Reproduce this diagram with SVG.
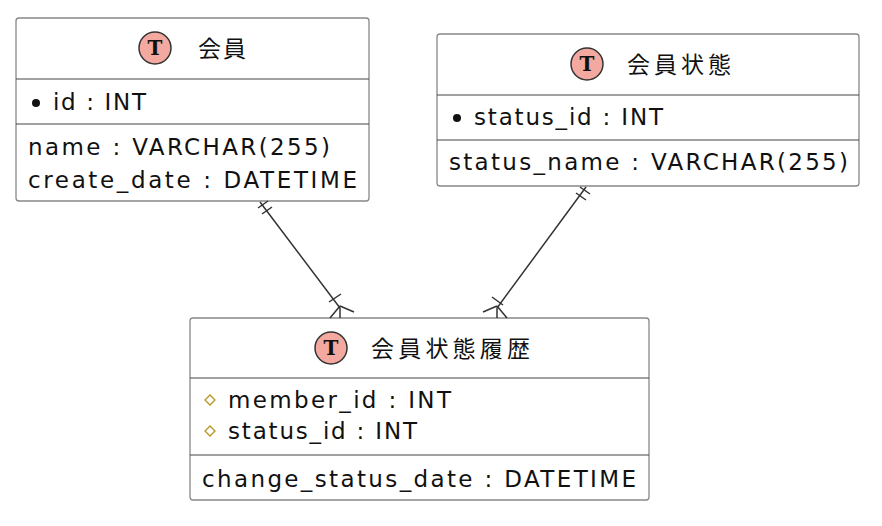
<svg xmlns="http://www.w3.org/2000/svg" width="882" height="526" viewBox="0 0 882 526">
<style>
.box{fill:#fff;stroke:#888;stroke-width:1.3}
.sep{stroke:#444;stroke-width:1.2}
.t{font-family:"DejaVu Sans","Noto Sans CJK JP",sans-serif;font-size:23px;fill:#111}
.h{font-family:"Noto Sans CJK JP",sans-serif;font-size:23px;fill:#111}
.ic{fill:#f4a9a0;stroke:#333;stroke-width:1.5}
.it{font-family:"DejaVu Serif",serif;font-weight:bold;font-size:20px;fill:#111;text-anchor:middle}
.c{stroke:#333;stroke-width:1.5;fill:none}
.k{fill:none;stroke:#b8941e;stroke-width:1.3}
</style>
<g id="member">
<rect class="box" x="16" y="18" width="353" height="183" rx="3"/>
<circle class="ic" cx="155" cy="48" r="16"/><text class="it" x="155" y="55">T</text>
<text class="h" x="198" y="57" textLength="48">会員</text>
<line class="sep" x1="16" y1="79" x2="369" y2="79"/>
<circle cx="36" cy="103" r="4" fill="#111"/>
<text class="t" x="53" y="110" textLength="93">id : INT</text>
<line class="sep" x1="16" y1="124" x2="369" y2="124"/>
<text class="t" x="28" y="155" textLength="302">name : VARCHAR(255)</text>
<text class="t" x="28" y="188" textLength="329">create_date : DATETIME</text>
</g>
<g id="status">
<rect class="box" x="437" y="34" width="422" height="152" rx="3"/>
<circle class="ic" cx="587" cy="64" r="16"/><text class="it" x="587" y="71">T</text>
<text class="h" x="627" y="73" textLength="104">会員状態</text>
<line class="sep" x1="437" y1="95" x2="859" y2="95"/>
<circle cx="457" cy="118" r="4" fill="#111"/>
<text class="t" x="474" y="125" textLength="189">status_id : INT</text>
<line class="sep" x1="437" y1="140" x2="859" y2="140"/>
<text class="t" x="449" y="170" textLength="399">status_name : VARCHAR(255)</text>
</g>
<g id="history">
<rect class="box" x="190" y="318" width="459" height="182" rx="3"/>
<circle class="ic" cx="331" cy="348" r="16"/><text class="it" x="331" y="355">T</text>
<text class="h" x="371" y="357" textLength="159">会員状態履歴</text>
<line class="sep" x1="190" y1="378" x2="649" y2="378"/>
<path class="k" d="M210 395 l5 5 l-5 5 l-5 -5z"/>
<text class="t" x="228" y="408" textLength="223">member_id : INT</text>
<path class="k" d="M210 426 l5 5 l-5 5 l-5 -5z"/>
<text class="t" x="228" y="439" textLength="189">status_id : INT</text>
<line class="sep" x1="190" y1="455" x2="649" y2="455"/>
<text class="t" x="202" y="487" textLength="434">change_status_date : DATETIME</text>
</g>
<g id="connectors">
<path class="c" d="M260 202 L340 308 L340 318"/>
<path class="c" d="M258 208 l10 -7 M262 214 l10 -7"/>
<path class="c" d="M329 302 l12 -8 M340 306 l-10 12 M340 306 l14 6"/>
<path class="c" d="M586 187 L497 308 L497 318"/>
<path class="c" d="M576 193 l10 7 M580 187 l10 7"/>
<path class="c" d="M492 297 l11 8 M497 306 l-14 6 M497 306 l10 12"/>
</g>
</svg>
